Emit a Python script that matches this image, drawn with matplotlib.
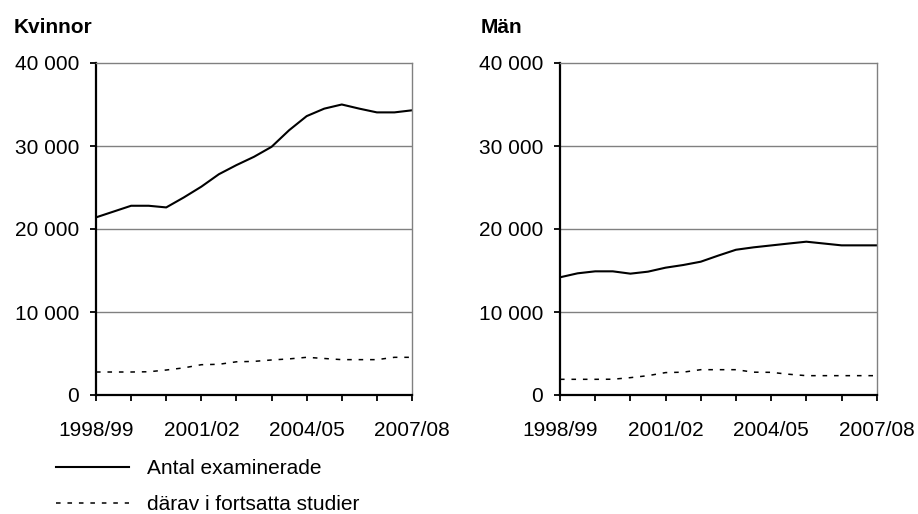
import matplotlib
matplotlib.use("Agg")
import matplotlib.pyplot as plt
from matplotlib.lines import Line2D

plt.rcParams['font.family'] = ['Liberation Sans', 'DejaVu Sans']

# Academic years on the x axis (labels shown every third year)
years = ['1998/99', '1999/00', '2000/01', '2001/02', '2002/03',
         '2003/04', '2004/05', '2005/06', '2006/07', '2007/08']
shown = ['1998/99', '2001/02', '2004/05', '2007/08']

# half-year positions along the category axis
pos = [0, 0.5, 1, 1.5, 2, 2.5, 3, 3.5, 4, 4.5, 5, 5.5, 6, 6.5, 7, 7.5, 8, 8.5, 9]

# Kvinnor
kv_total = [21400, 22100, 22800, 22800, 22600, 23800, 25100, 26600, 27700, 28700,
            29900, 31900, 33600, 34500, 35000, 34500, 34050, 34050, 34300]
kv_cont = [2770, 2770, 2770, 2800, 3010, 3270, 3650, 3700, 4000, 4050,
           4220, 4350, 4540, 4400, 4260, 4260, 4260, 4540, 4540]

# Män
man_total = [14180, 14660, 14900, 14900, 14620, 14860, 15340, 15660, 16060, 16800,
             17500, 17790, 18020, 18250, 18470, 18250, 18030, 18030, 18030]
man_cont = [1890, 1890, 1890, 1900, 2090, 2330, 2700, 2750, 3050, 3050,
            3050, 2750, 2730, 2500, 2330, 2330, 2330, 2330, 2330]

yticks = [0, 10000, 20000, 30000, 40000]
ytick_labels = ['0', '10 000', '20 000', '30 000', '40 000']

fs = 15
dotted = (0, (3, 4.5))

fig = plt.figure(figsize=(9.18, 5.14), dpi=100)
ax1 = fig.add_axes([96/918, 1-395/514, 316/918, 332/514])
ax2 = fig.add_axes([560/918, 1-395/514, 316.7/918, 332/514])

panels = [(ax1, 'Kvinnor', kv_total, kv_cont, 14),
          (ax2, 'Män', man_total, man_cont, 481)]

for ax, title, tot, cont, tx in panels:
    ax.plot(pos, tot, color='black', lw=1.5, solid_joinstyle='round')
    ax.plot(pos, cont, color='black', lw=1.1, linestyle=dotted)
    ax.set_xlim(0, 9)
    ax.set_ylim(0, 40000)
    ax.set_yticks(yticks)
    ax.set_yticklabels(ytick_labels, fontsize=fs)
    ax.set_xticks(range(len(years)))
    ax.set_xticklabels([y if y in shown else '' for y in years], fontsize=fs)
    for v in yticks[1:-1]:
        ax.axhline(v, color='#808080', lw=1, zorder=0)
    ax.spines['left'].set_linewidth(1.6)
    ax.spines['bottom'].set_linewidth(1.6)
    ax.spines['top'].set_color('#808080')
    ax.spines['right'].set_color('#808080')
    ax.spines['top'].set_linewidth(1)
    ax.spines['right'].set_linewidth(1)
    ax.tick_params(axis='y', direction='out', length=4.5, width=1.3, pad=7.8)
    ax.tick_params(axis='x', direction='out', length=4.5, width=1.3, pad=14)
    fig.text(tx/918, 1-33/514, title, fontsize=fs, fontweight='bold',
             ha='left', va='baseline')

handles = [Line2D([], [], color='black', lw=1.5),
           Line2D([], [], color='black', lw=1.1, linestyle=dotted)]
fig.legend(handles, ['Antal examinerade', 'därav i fortsatta studier'],
           loc='upper left', bbox_to_anchor=(56/918, 1-459/514),
           frameon=False, fontsize=fs, handlelength=3.5, handletextpad=0.85,
           labelspacing=0.83, borderpad=0, borderaxespad=0)

fig.savefig('out.png', dpi=100)
